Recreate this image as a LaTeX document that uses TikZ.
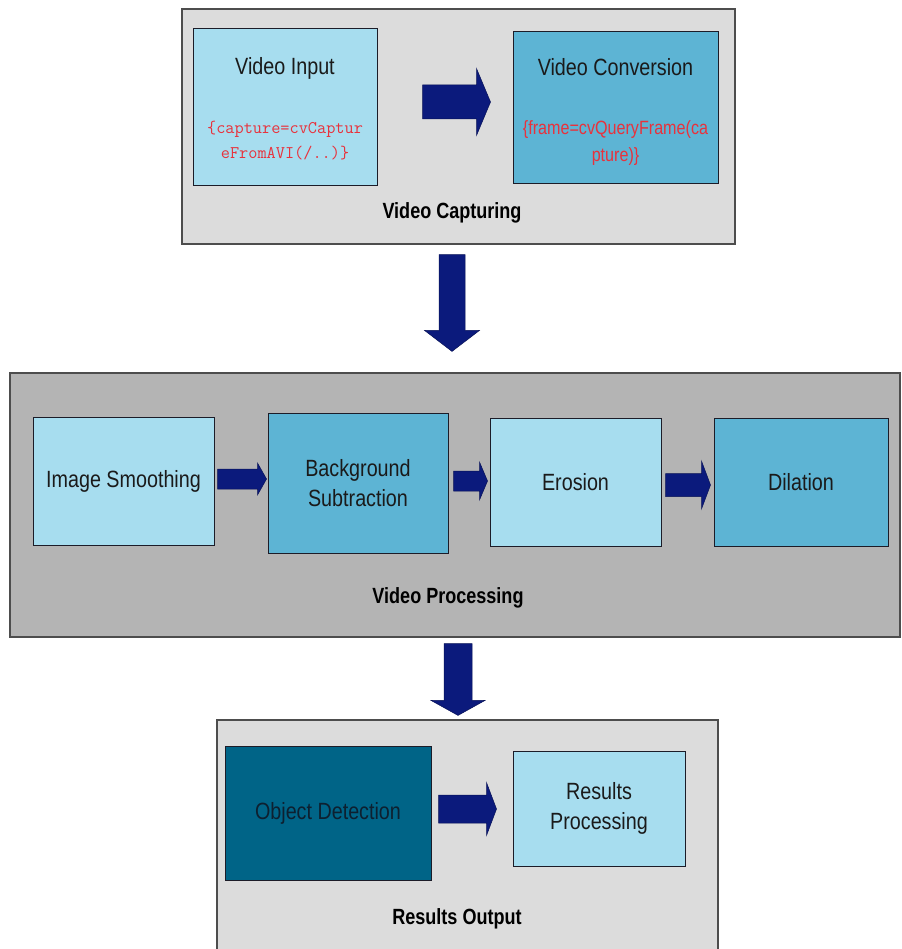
\documentclass[tikz,border=0pt]{standalone}
\usepackage{fontspec}
\setmainfont{Liberation Sans}[FakeStretch=0.84]
\newfontfamily\labelfont{Liberation Sans}[FakeStretch=0.82]
\usetikzlibrary{calc}

\definecolor{lightbox}{HTML}{A7DDEF}
\definecolor{midbox}{HTML}{5DB4D4}
\definecolor{darkbox}{HTML}{006487}
\definecolor{panelpale}{HTML}{DCDCDC}
\definecolor{panelgrey}{HTML}{B4B4B4}
\definecolor{panelline}{HTML}{4D4D4D}
\definecolor{boxline}{HTML}{1C1C28}
\definecolor{arrowfill}{HTML}{0B1A7C}
\definecolor{codered}{HTML}{E8323C}
\definecolor{boxtext}{HTML}{1A1A1A}
\definecolor{darktext}{HTML}{0D2030}

\tikzset{
  panel/.style={draw=panelline, line width=1.2pt, inner sep=0pt},
  stage/.style={draw=boxline, line width=1pt, inner sep=0pt},
  stagetext/.style={text=boxtext, align=center, inner sep=0pt,
    font={\fontsize{23.5}{30}\selectfont}},
  paneltitle/.style={text=black, inner sep=0pt,
    font={\labelfont\bfseries\fontsize{22}{26}\selectfont}},
}

% filled block arrow from #1 to #2: body half-width #3, head half-width #4, head length #5
\newcommand\blockarrow[5]{%
  \coordinate (neck) at ($(#2)!#5!(#1)$);
  \fill[arrowfill, draw=arrowfill!70!black, line width=0.5pt]
    ($(#1)!#3!90:(#2)$) -- ($(neck)!#3!90:(#2)$) -- ($(neck)!#4!90:(#2)$) -- (#2)
    -- ($(neck)!#4!-90:(#2)$) -- ($(neck)!#3!-90:(#2)$) -- ($(#1)!#3!-90:(#2)$) -- cycle;}

\begin{document}
\begin{tikzpicture}[x=1pt,y=-1pt]
\useasboundingbox (0,0) rectangle (901,949);
\fill[white] (0,0) rectangle (901,949);

% ---- panels ----
\node[panel, fill=panelpale, minimum width=553pt, minimum height=235pt] (cap) at (458.5,126.5) {};
\node[panel, fill=panelgrey, minimum width=890pt, minimum height=264pt] (proc) at (455,505) {};
\node[panel, fill=panelpale, minimum width=501pt, minimum height=230pt] (out) at (467.5,835) {};

% ---- video capturing ----
\node[stage, fill=lightbox, minimum width=184pt, minimum height=157pt] (vi) at (285,107.5) {};
\node[stagetext] (vititle) at (285,68) {Video Input};
\node[text=codered, align=center, inner sep=0pt,
      font={\ttfamily\fontsize{17.8}{25}\selectfont}] (vicode) at (285,140.5)
  {\{capture=cvCaptur\\eFromAVI(/..)\}};

\node[stage, fill=midbox, minimum width=205pt, minimum height=152pt] (vc) at (615.5,108) {};
\node[stagetext] (vctitle) at (615.5,67) {Video Conversion};
\node[text=codered, align=center, inner sep=0pt,
      font={\fontsize{19.2}{27}\selectfont}] (vccode) at (615.5,143.5)
  {\{frame=cvQueryFrame(ca\\pture)\}};

\node[paneltitle] (captitle) at (452,213) {Video Capturing};

% ---- video processing ----
\node[stage, fill=lightbox, minimum width=181pt, minimum height=128pt] (is) at (123.5,481) {};
\node[stagetext] (istext) at (is) {Image Smoothing};
\node[stage, fill=midbox, minimum width=180pt, minimum height=140pt] (bs) at (358,483) {};
\node[stagetext] (bstext) at (bs) {Background\\Subtraction};
\node[stage, fill=lightbox, minimum width=171pt, minimum height=128pt] (er) at (575.5,482) {};
\node[stagetext] (ertext) at (er) {Erosion};
\node[stage, fill=midbox, minimum width=174pt, minimum height=128pt] (di) at (801,482) {};
\node[stagetext] (ditext) at (di) {Dilation};

\node[paneltitle] (proctitle) at (448,598) {Video Processing};

% ---- results output ----
\node[stage, fill=darkbox, minimum width=206pt, minimum height=134pt] (od) at (328,813) {};
\node[stagetext, text=darktext] (odtext) at (od) {Object Detection};
\node[stage, fill=lightbox, minimum width=172pt, minimum height=115pt] (rp) at (599,808.5) {};
\node[stagetext] (rptext) at (rp) {Results\\Processing};

\node[paneltitle] (outtitle) at (457,919) {Results Output};

% ---- arrow end points ----
\coordinate (a1s) at ($(vi.east)+(45,-5.5)$);
\coordinate (a1e) at ($(vc.west)+(-22,-6)$);
\coordinate (d1s) at ($(cap.south)+(-6.5,10)$);
\coordinate (d1e) at ($(proc.north)+(-3,-21)$);
\coordinate (a2s) at ($(is.east)+(3,-2)$);
\coordinate (a2e) at ($(bs.west)+(-1,-4)$);
\coordinate (a3s) at ($(bs.east)+(5,-2)$);
\coordinate (a3e) at ($(er.west)+(-2,-1)$);
\coordinate (a4s) at ($(er.east)+(4,3)$);
\coordinate (a4e) at ($(di.west)+(-3,3)$);
\coordinate (d2s) at ($(proc.south)+(3,6)$);
\coordinate (d2e) at ($(out.north)+(-9.5,-4)$);
\coordinate (a5s) at ($(od.east)+(7,-4)$);
\coordinate (a5e) at ($(rp.west)+(-16,0.5)$);

% ---- arrows ----
\blockarrow{a1s}{a1e}{17pt}{33.5pt}{14pt}
\blockarrow{d1s}{d1e}{13pt}{27.5pt}{21pt}
\blockarrow{a2s}{a2e}{10pt}{16pt}{9pt}
\blockarrow{a3s}{a3e}{10pt}{19pt}{8pt}
\blockarrow{a4s}{a4e}{11.5pt}{24pt}{9pt}
\blockarrow{d2s}{d2e}{14pt}{27pt}{15pt}
\blockarrow{a5s}{a5e}{14pt}{26.5pt}{10pt}
\end{tikzpicture}
\end{document}
